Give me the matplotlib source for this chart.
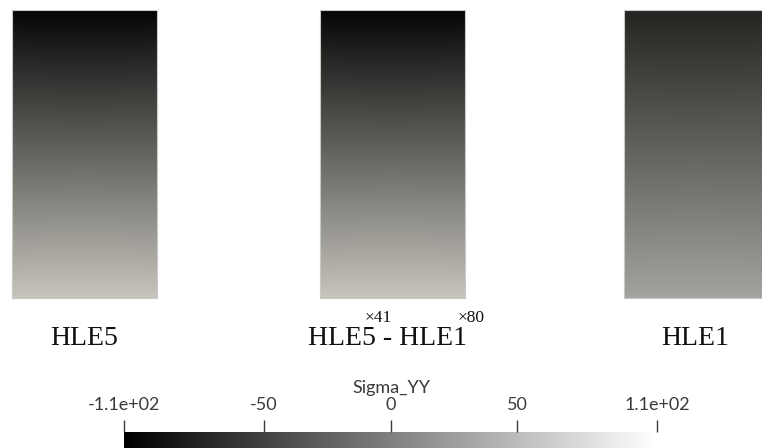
import numpy as np
import matplotlib
matplotlib.use("Agg")
import matplotlib.pyplot as plt
from matplotlib.colors import LinearSegmentedColormap, Normalize

W, H = 762, 448
DPI = 100

# Sigma_YY field samples (top edge, bottom edge) for each rendered block
panel_names = ["HLE5", "HLE5 - HLE1", "HLE1"]
hle5_sigma = [-101.0, 59.0]
diff_sigma = [-101.0, 59.0]
hle1_sigma = [-76.0, 31.0]
panel_values = [hle5_sigma, diff_sigma, hle1_sigma]
diff_scales = ["×41", "×80"]

# colour bar range and ticks
sigma_range = [-105.0, 105.0]
tick_values = [-105.0, -50.0, 0.0, 50.0, 105.0]
tick_labels = ["-1.1e+02", "-50", "0", "50", "1.1e+02"]
bar_title = "Sigma_YY"

norm = Normalize(vmin=sigma_range[0], vmax=sigma_range[1])
surface_cmap = LinearSegmentedColormap.from_list(
    "surface", [(0.0, 0.0, 0.0), (0.5, 0.495, 0.475), (1.0, 0.99, 0.95)])
bar_cmap = LinearSegmentedColormap.from_list(
    "bar", [(0.0, 0.0, 0.0), (1.0, 1.0, 1.0)])


def px_axes(fig, x0, y0, x1, y1):
    """Axes from pixel box (origin top-left)."""
    return fig.add_axes([x0 / W, 1 - y1 / H, (x1 - x0) / W, (y1 - y0) / H])


fig = plt.figure(figsize=(W / DPI, H / DPI), dpi=DPI)
fig.patch.set_facecolor("white")

panel_boxes = [(12, 10, 157, 298), (320, 10, 465, 298), (624, 10, 769, 298)]
for box, vals in zip(panel_boxes, panel_values):
    ax = px_axes(fig, *box)
    # 2x2 node grid: bottom row then top row, smooth (gouraud) shading between
    xs = np.array([0.0, 1.0])
    ys = np.array([0.0, 1.0])
    top, bottom = vals
    field = np.array([[bottom, bottom], [top, top]])
    ax.pcolormesh(xs, ys, field, cmap=surface_cmap, norm=norm,
                  shading="gouraud")
    ax.set_xlim(0, 1)
    ax.set_ylim(0, 1)
    ax.set_xticks([])
    ax.set_yticks([])
    for s in ax.spines.values():
        s.set_color("#c8c8c4")
        s.set_linewidth(0.8)

serif = ["Liberation Serif", "DejaVu Serif"]
label_pos = [(84, 345), (387, 345), (695, 345)]
for name, (x, y) in zip(panel_names, label_pos):
    fig.text(x / W, 1 - y / H, name, ha="center", va="baseline",
             fontsize=20, family=serif, color="#111111")
fig.text(365 / W, 1 - 322 / H, diff_scales[0], ha="left", va="baseline",
         fontsize=12.5, family=serif, color="#111111")
fig.text(458 / W, 1 - 322 / H, diff_scales[1], ha="left", va="baseline",
         fontsize=12.5, family=serif, color="#111111")

# colour bar
cax = px_axes(fig, 124, 432, 657, 455)
grad = np.linspace(sigma_range[0], sigma_range[1], 512).reshape(1, -1)
cax.imshow(grad, cmap=bar_cmap, norm=norm, aspect="auto",
           extent=(sigma_range[0], sigma_range[1], 0, 1))
cax.set_xlim(sigma_range)
cax.set_yticks([])
for s in cax.spines.values():
    s.set_visible(False)
cax.xaxis.set_ticks_position("top")
cax.set_xticks(tick_values)
cax.set_xticklabels(tick_labels, family=["Lato", "DejaVu Sans"], fontsize=13,
                    color="#3a3a3a")
cax.tick_params(axis="x", direction="out", length=9, width=1.0,
                color="#3a3a3a", pad=5)

fig.text(391 / W, 1 - 388 / H, bar_title, ha="center", va="center",
         fontsize=13, family=["Lato", "DejaVu Sans"], color="#3a3a3a")

fig.savefig("out.png", dpi=DPI)
